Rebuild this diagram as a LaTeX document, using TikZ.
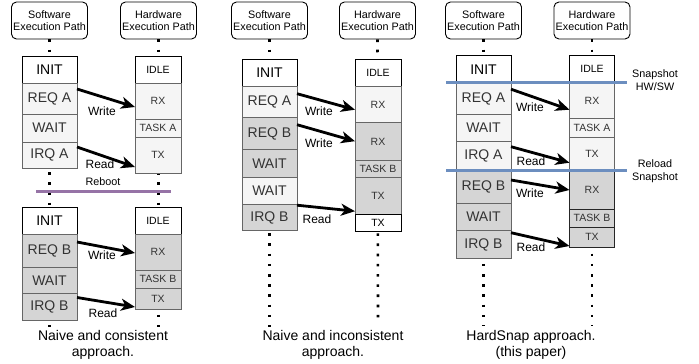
\documentclass[tikz,border=0pt]{standalone}
\usepackage{fontspec}
\setmainfont{Liberation Sans}
\usetikzlibrary{positioning,arrows.meta}
\definecolor{rebootc}{HTML}{9673A6}
\definecolor{snapc}{HTML}{6C8EBF}
\tikzset{
  hdr/.style={draw, line width=0.9pt, rounded corners=5pt, align=center, inner sep=1pt,
    minimum width=76pt, minimum height=37pt, font=\fontsize{10.8}{12.5}\selectfont},
  cell/.style={draw=black!60, line width=0.9pt, text=black!80, outer sep=0pt, inner sep=0pt},
  swc/.style={cell, minimum width=55pt, font=\fontsize{14}{14}\selectfont},
  hwc/.style={cell, minimum width=46pt, font=\fontsize{10.5}{10.5}\selectfont},
  lt/.style={fill=gray!8},
  dk/.style={fill=gray!33},
  first/.style={fill=white, draw=black, text=black},
  hard/.style={draw=black!85},
  trace/.style={line width=2.6pt, dash pattern=on 2.6pt off 7.6pt},
  msg/.style={line width=2.8pt, -{Stealth[length=14pt,width=12pt,inset=4pt]}},
  lbl/.style={font=\fontsize{12}{12}\selectfont},
  note/.style={align=center, font=\fontsize{10.8}{13}\selectfont},
  capt/.style={align=center, font=\fontsize{14}{16}\selectfont}
}
\begin{document}
\begin{tikzpicture}[x=1pt,y=-1pt]
\useasboundingbox (0,0) rectangle (699,364);
% headers
\node[hdr] (h1s) at (49.5,20.5) {Software\\Execution Path};
\node[hdr] (h1h) at (158.5,20.5) {Hardware\\Execution Path};
\node[hdr] (h2s) at (269.5,20.5) {Software\\Execution Path};
\node[hdr] (h2h) at (377.5,20.5) {Hardware\\Execution Path};
\node[hdr] (h3s) at (483.5,20.5) {Software\\Execution Path};
\node[hdr] (h3h) at (592,20.5) {Hardware\\Execution Path};
% execution paths
\coordinate (e1s) at (49.5,327);
\coordinate (e1h) at (158.5,327);
\coordinate (e2s) at (269.5,327);
\coordinate (e2h) at (378,320);
\coordinate (e3s) at (483.5,326);
\coordinate (e3h) at (592,326);
\draw[trace] (h1s.south) -- (e1s);
\draw[trace] (h1h.south) -- (e1h);
\draw[trace] (h2s.south) -- (e2s);
\draw[trace] (h2h.south) -- (e2h);
\draw[trace] (h3s.south) -- (e3s);
\draw[trace] (h3h.south) -- (e3h);
% reboot
\coordinate (rb1) at (36,191);
\coordinate (rb2) at (171,191);
\draw[rebootc, line width=3pt] (rb1) -- (rb2);
\node[note] (rbl) at (103,182) {Reboot};

% panel 1, first run
\node[swc, first, minimum height=27pt, anchor=north] (p1i) at (49.5,56) {INIT};
\node[swc, lt, minimum height=31pt, below=0pt of p1i] (p1ra) {REQ A};
\node[swc, lt, minimum height=28pt, below=0pt of p1ra] (p1wa) {WAIT};
\node[swc, lt, minimum height=26pt, below=0pt of p1wa] (p1qa) {IRQ A};
\node[hwc, first, minimum height=27pt, anchor=north] (p1id) at (158,56) {IDLE};
\node[hwc, lt, minimum height=36pt, below=0pt of p1id] (p1rx) {RX};
\node[hwc, lt, minimum height=18pt, below=0pt of p1rx] (p1ta) {TASK A};
\node[hwc, lt, minimum height=36pt, below=0pt of p1ta] (p1tx) {TX};
% panel 1, after reboot
\node[swc, first, minimum height=27pt, anchor=north] (p1i2) at (49.5,207) {INIT};
\node[swc, dk, minimum height=33pt, below=0pt of p1i2] (p1rb) {REQ B};
\node[swc, dk, minimum height=26.5pt, below=0pt of p1rb] (p1wb) {WAIT};
\node[swc, dk, minimum height=26.5pt, below=0pt of p1wb] (p1qb) {IRQ B};
\node[hwc, first, minimum height=27pt, anchor=north] (p1id2) at (158,207) {IDLE};
\node[hwc, dk, minimum height=36pt, below=0pt of p1id2] (p1rx2) {RX};
\node[hwc, dk, minimum height=18pt, below=0pt of p1rx2] (p1tb) {TASK B};
\node[hwc, dk, minimum height=21pt, below=0pt of p1tb] (p1tx2) {TX};
\draw[msg] ([yshift=-6pt]p1ra.north east) -- ([yshift=-24pt]p1rx.north west);
\draw[msg] ([yshift=-5pt]p1qa.north east) -- ([yshift=-30pt]p1tx.north west);
\draw[msg] ([yshift=-8pt]p1rb.north east) -- ([yshift=-19pt]p1rx2.north west);
\draw[msg] ([yshift=-4pt]p1qb.north east) -- ([yshift=2pt]p1tx2.south west);
\node[lbl] (p1l1) at (102,111) {Write};
\node[lbl] (p1l2) at (100,164) {Read};
\node[lbl] (p1l3) at (102,255) {Write};
\node[lbl] (p1l4) at (103,313) {Read};
\node[capt] (c1) at (103,345) {Naive and consistent\\approach.};

% panel 2
\node[swc, first, minimum height=27.5pt, anchor=north] (p2i) at (269.5,59.2) {INIT};
\node[swc, lt, minimum height=31pt, below=0pt of p2i] (p2ra) {REQ A};
\node[swc, dk, minimum height=32pt, below=0pt of p2ra] (p2rb) {REQ B};
\node[swc, dk, minimum height=27.5pt, below=0pt of p2rb] (p2wb) {WAIT};
\node[swc, lt, minimum height=27pt, below=0pt of p2wb] (p2wa) {WAIT};
\node[swc, dk, minimum height=26.5pt, below=0pt of p2wa] (p2qb) {IRQ B};
\node[hwc, first, minimum height=27.5pt, anchor=north] (p2id) at (378,59.2) {IDLE};
\node[hwc, lt, minimum height=36pt, below=0pt of p2id] (p2rxa) {RX};
\node[hwc, dk, minimum height=37.5pt, below=0pt of p2rxa] (p2rxb) {RX};
\node[hwc, dk, minimum height=17.5pt, below=0pt of p2rxb] (p2tb) {TASK B};
\node[hwc, dk, minimum height=36.5pt, below=0pt of p2tb] (p2tx) {TX};
\node[hwc, first, minimum height=17.5pt, below=0pt of p2tx] (p2tx2) {TX};
\draw[msg] ([yshift=-7pt]p2ra.north east) -- ([yshift=-23pt]p2rxa.north west);
\draw[msg] ([yshift=-7pt]p2rb.north east) -- ([yshift=-18.5pt]p2rxb.north west);
\draw[msg] ([yshift=-1pt]p2qb.north east) -- ([yshift=3pt]p2tx.south west);
\node[lbl] (p2l1) at (319,111) {Write};
\node[lbl] (p2l2) at (319,143) {Write};
\node[lbl] (p2l3) at (317,219) {Read};
\node[capt] (c2) at (333,345) {Naive and inconsistent\\approach.};

% panel 3
\node[swc, first, minimum height=27pt, anchor=north] (p3i) at (483.5,55.7) {INIT};
\node[swc, lt, minimum height=31.6pt, below=0pt of p3i] (p3ra) {REQ A};
\node[swc, lt, minimum height=27.4pt, below=0pt of p3ra] (p3wa) {WAIT};
\node[swc, lt, minimum height=28.3pt, below=0pt of p3wa] (p3qa) {IRQ A};
\node[swc, dk, minimum height=33.3pt, below=0pt of p3qa] (p3rb) {REQ B};
\node[swc, dk, minimum height=27.4pt, below=0pt of p3rb] (p3wb) {WAIT};
\node[swc, dk, minimum height=27.6pt, below=0pt of p3wb] (p3qb) {IRQ B};
\node[hwc, first, minimum height=27pt, minimum width=45pt, anchor=north] (p3id) at (592,55.7) {IDLE};
\node[hwc, lt, minimum height=36pt, minimum width=45pt, below=0pt of p3id] (p3rx) {RX};
\node[hwc, lt, minimum height=19pt, minimum width=45pt, below=0pt of p3rx] (p3ta) {TASK A};
\node[hwc, lt, minimum height=33.3pt, minimum width=45pt, below=0pt of p3ta] (p3tx) {TX};
\node[hwc, dk, hard, minimum height=38pt, minimum width=45pt, below=0pt of p3tx] (p3rx2) {RX};
\node[hwc, dk, hard, minimum height=18pt, minimum width=45pt, below=0pt of p3rx2] (p3tb) {TASK B};
\node[hwc, dk, hard, minimum height=20pt, minimum width=45pt, below=0pt of p3tb] (p3tx2) {TX};
\draw[msg] ([yshift=-6.5pt]p3ra.north east) -- ([yshift=-27pt]p3rx.north west);
\draw[msg] ([yshift=-5pt]p3qa.north east) -- ([yshift=-25pt]p3tx.north west);
\draw[msg] ([yshift=-10pt]p3rb.north east) -- ([yshift=-19pt]p3rx2.north west);
\draw[msg] ([yshift=-2pt]p3qb.north east) -- ([yshift=1pt]p3tx2.south west);
\node[lbl] (p3l1) at (530,107) {Write};
\node[lbl] (p3l2) at (531,161) {Read};
\node[lbl] (p3l3) at (530,193) {Write};
\node[lbl] (p3l4) at (531,247) {Read};
% snapshot lines
\coordinate (sn1) at (446,82.7);
\coordinate (sn2) at (627,82.7);
\coordinate (rl1) at (446,170);
\coordinate (rl2) at (627,170);
\draw[snapc, line width=3pt] (sn1) -- (sn2);
\draw[snapc, line width=3pt] (rl1) -- (rl2);
\node[note] (snl) at (655,80.5) {Snapshot\\HW/SW};
\node[note] (rll) at (655,171.5) {Reload\\Snapshot};
\node[capt] (c3) at (531,345) {HardSnap approach.\\(this paper)};
\end{tikzpicture}
\end{document}
